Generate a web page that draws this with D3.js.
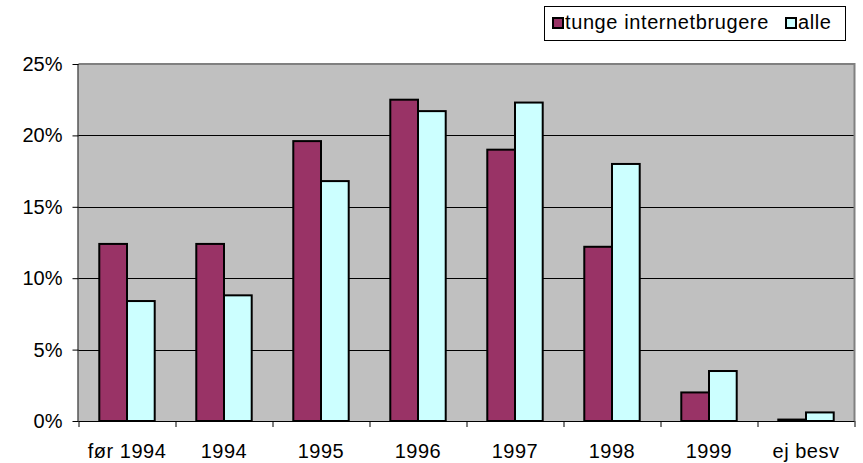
<!DOCTYPE html>
<html>
<head>
<meta charset="utf-8">
<script src="https://cdn.jsdelivr.net/npm/d3@7"></script>
<style>
  body { margin: 0; background: #fff; }
  text { font-family: "Liberation Sans", Arial, sans-serif; }
</style>
</head>
<body>
<script>
// data (percent)
var categories = ["før 1994", "1994", "1995", "1996", "1997", "1998", "1999", "ej besv"];
var seriesNames = ["tunge internetbrugere", "alle"];
var tunge = [12.4, 12.4, 19.6, 22.5, 19.0, 12.2, 2.0, 0.1];
var alle = [8.4, 8.8, 16.8, 21.7, 22.3, 18.0, 3.5, 0.6];
var yTicks = [0, 5, 10, 15, 20, 25];
var colors = ["#993366", "#ccffff"];

var width = 863, height = 463;
var margin = {top: 64, right: 8.5, bottom: 42, left: 78.5};
var w = width - margin.left - margin.right,
    h = height - margin.top - margin.bottom;

var svg = d3.select("body").append("svg")
    .attr("width", width)
    .attr("height", height);

var g = svg.append("g")
    .attr("transform", "translate(" + margin.left + "," + margin.top + ")");

var x0 = d3.scaleBand().domain(categories).range([0, w]);
var x1 = d3.scaleBand().domain(seriesNames).range([0, x0.bandwidth()]).paddingOuter(0.75);
var y = d3.scaleLinear().domain([0, 25]).range([h, 0]);

// plot background
g.append("rect")
    .attr("width", w).attr("height", h)
    .attr("fill", "#c0c0c0");

// gridlines
g.selectAll(".grid").data(yTicks.filter(function(d){ return d > 0 && d < 25; }))
  .enter().append("line")
    .attr("x1", 0).attr("x2", w)
    .attr("y1", function(d){ return Math.round(y(d)) + 0.5; })
    .attr("y2", function(d){ return Math.round(y(d)) + 0.5; })
    .attr("stroke", "#000").attr("stroke-width", 1);

// gray border top + right
g.append("path")
    .attr("d", "M0," + y(25) + "H" + w + "V" + h)
    .attr("fill", "none").attr("stroke", "#808080").attr("stroke-width", 2);

var data = categories.map(function(c, i){
  return {cat: c, vals: [{s: seriesNames[0], v: tunge[i]}, {s: seriesNames[1], v: alle[i]}]};
});

var groups = g.selectAll(".grp").data(data).enter().append("g")
    .attr("transform", function(d){ return "translate(" + x0(d.cat) + ",0)"; });

groups.selectAll("rect").data(function(d){ return d.vals; })
  .enter().append("rect")
    .attr("x", function(d){ return x1(d.s); })
    .attr("width", x1.bandwidth())
    .attr("y", function(d){ return y(d.v); })
    .attr("height", function(d){ return h - y(d.v); })
    .attr("fill", function(d, i){ return colors[i]; })
    .attr("stroke", "#000").attr("stroke-width", 2);

// y axis
var yAxis = g.append("g")
    .call(d3.axisLeft(y).tickValues(yTicks).tickSize(6).tickPadding(10)
      .tickFormat(function(d){ return d + "%"; }));
yAxis.select(".domain").attr("stroke", "#000").attr("d", "M-0.5," + y(25) + "V" + h);
yAxis.selectAll("text").attr("font-size", "20px").attr("font-family", "Liberation Sans, Arial, sans-serif")
    .attr("fill", "#000");

// x axis
var xAxis = g.append("g")
    .attr("transform", "translate(0," + h + ")")
    .call(d3.axisBottom(x0).tickSize(0).tickPadding(0));
xAxis.select(".domain").attr("d", "M0,0.5H" + w).attr("stroke", "#000");
xAxis.selectAll(".tick text")
    .attr("y", 37).attr("dy", 0)
    .attr("font-size", "20px").attr("font-family", "Liberation Sans, Arial, sans-serif")
    .attr("letter-spacing", "0.5px")
    .attr("fill", "#000");

// category separator ticks
xAxis.selectAll(".sep").data(d3.range(categories.length + 1))
  .enter().append("line")
    .attr("x1", function(i){ return Math.round(i * x0.step()) + 0.5; })
    .attr("x2", function(i){ return Math.round(i * x0.step()) + 0.5; })
    .attr("y1", 0).attr("y2", 6)
    .attr("stroke", "#000");

// legend
var legend = svg.append("g").attr("transform", "translate(544,6)");
legend.append("rect")
    .attr("x", 0.5).attr("y", 0.5).attr("width", 301).attr("height", 34)
    .attr("fill", "#fff").attr("stroke", "#000");

var legX = [9, 242];
seriesNames.forEach(function(s, i){
  legend.append("rect")
      .attr("x", legX[i]).attr("y", 12)
      .attr("width", 10).attr("height", 10)
      .attr("fill", colors[i]).attr("stroke", "#000").attr("stroke-width", 2);
  legend.append("text")
      .attr("x", legX[i] + 12).attr("y", 23)
      .attr("font-size", "20px")
      .attr("letter-spacing", "0.6px")
      .text(s);
});
</script>
</body>
</html>
